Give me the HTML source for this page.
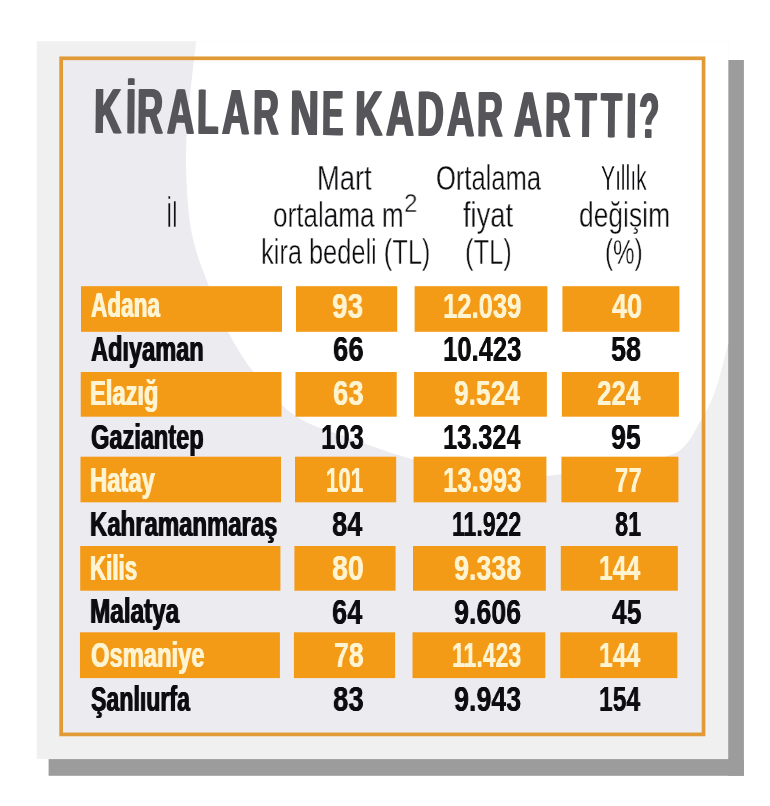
<!DOCTYPE html>
<html><head><meta charset="utf-8"><title>Kiralar ne kadar artti</title>
<style>
html,body{margin:0;padding:0;background:#fff;}
body{width:770px;height:806px;position:relative;overflow:hidden;font-family:"Liberation Sans",sans-serif;}
.abs{position:absolute;}
.t{position:absolute;white-space:nowrap;line-height:1em;transform-origin:0 0;display:block;}
.w{will-change:transform;}
#tw{left:0;top:0;width:770px;height:200px;will-change:transform;}
.b{font-weight:bold;}
.n{font-weight:normal;}
#title{left:0;top:0;width:770px;height:200px;transform-origin:95.8px 133.0px;transform:rotate(0.49deg);}
#page{left:0;top:0;width:770px;height:806px;filter:blur(0.4px);}
</style></head><body>
<div id="page" class="abs">
<svg class="abs" style="left:0;top:0" width="770" height="806" viewBox="0 0 770 806">
<defs><clipPath id="cc"><rect x="36.8" y="41.3" width="691.4" height="717.8"/></clipPath></defs>
<rect x="728" y="60" width="15.9" height="715.8" fill="#9c9c9c"/>
<rect x="48.6" y="759" width="695.3" height="16.8" fill="#9c9c9c"/>
<rect x="36.8" y="41.3" width="691.4" height="717.8" fill="#f0f0f1"/>
<rect x="61" y="58" width="642.6" height="676.4" fill="#ecebf0"/>
<path d="M196,42 C194.2,58.7 188.5,105.3 187,130 C185.5,154.7 186.0,171.8 187,190 C188.0,208.2 189.5,223.3 193,239 C196.5,254.7 202.2,268.5 208,284 C213.8,299.5 219.7,316.3 228,332 C236.3,347.7 246.5,363.8 258,378 C269.5,392.2 281.7,407.0 297,417 C312.3,427.0 331.5,431.2 350,438 C368.5,444.8 388.0,452.3 408,458 C428.0,463.7 449.7,468.8 470,472 C490.3,475.2 510.0,477.3 530,477 C550.0,476.7 571.7,472.5 590,470 C608.3,467.5 625.2,465.2 640,462 C654.8,458.8 669.0,457.7 679,451 C689.0,444.3 694.0,432.0 700,422 C706.0,412.0 710.3,404.0 715,391 C719.7,378.0 724.2,359.2 728,344 L732,344 L732,38 L196,38 Z" fill="#ffffff" clip-path="url(#cc)"/>
<rect x="61.15" y="58.3" width="642.4" height="676.1" fill="none" stroke="#e09b36" stroke-width="3.7"/>
<g fill="#f39a16">
<rect x="81.00" y="286.20" width="201.00" height="45.60"/><rect x="296.00" y="286.20" width="101.20" height="45.60"/><rect x="414.60" y="286.20" width="132.80" height="45.60"/><rect x="562.40" y="286.20" width="117.00" height="45.60"/><rect x="80.75" y="372.00" width="200.75" height="44.70"/><rect x="295.50" y="372.00" width="101.20" height="44.70"/><rect x="414.10" y="372.00" width="132.80" height="44.70"/><rect x="561.90" y="372.00" width="117.00" height="44.70"/><rect x="80.50" y="456.70" width="200.50" height="45.60"/><rect x="295.00" y="456.70" width="101.20" height="45.60"/><rect x="413.60" y="456.70" width="132.80" height="45.60"/><rect x="561.40" y="456.70" width="117.00" height="45.60"/><rect x="80.20" y="546.00" width="200.20" height="44.70"/><rect x="294.40" y="546.00" width="101.20" height="44.70"/><rect x="413.00" y="546.00" width="132.80" height="44.70"/><rect x="560.80" y="546.00" width="117.00" height="44.70"/><rect x="79.95" y="632.30" width="199.95" height="45.80"/><rect x="293.90" y="632.30" width="101.20" height="45.80"/><rect x="412.50" y="632.30" width="132.80" height="45.80"/><rect x="560.30" y="632.30" width="117.00" height="45.80"/>
</g>
</svg>
<div id="tw" class="abs"><div id="title" class="abs">
<span class="t b" style="left:94.45px;top:78.82px;font-size:64.0px;color:#55555a;transform:scaleX(0.5881);text-shadow:1.70px 0 0 #55555a,-1.70px 0 0 #55555a;">K</span>
<span class="t b" style="left:125.64px;top:78.82px;font-size:64.0px;color:#55555a;transform:scaleX(0.5400);text-shadow:1.85px 0 0 #55555a,-1.85px 0 0 #55555a;">İ</span>
<span class="t b" style="left:137.17px;top:78.82px;font-size:64.0px;color:#55555a;transform:scaleX(0.5585);text-shadow:1.79px 0 0 #55555a,-1.79px 0 0 #55555a;">R</span>
<span class="t b" style="left:166.61px;top:78.82px;font-size:64.0px;color:#55555a;transform:scaleX(0.5864);text-shadow:1.71px 0 0 #55555a,-1.71px 0 0 #55555a;">A</span>
<span class="t b" style="left:196.72px;top:78.82px;font-size:64.0px;color:#55555a;transform:scaleX(0.5441);text-shadow:1.84px 0 0 #55555a,-1.84px 0 0 #55555a;">L</span>
<span class="t b" style="left:222.11px;top:78.82px;font-size:64.0px;color:#55555a;transform:scaleX(0.5886);text-shadow:1.70px 0 0 #55555a,-1.70px 0 0 #55555a;">A</span>
<span class="t b" style="left:252.59px;top:78.82px;font-size:64.0px;color:#55555a;transform:scaleX(0.5537);text-shadow:1.81px 0 0 #55555a,-1.81px 0 0 #55555a;">R</span>
<span class="t b" style="left:290.02px;top:78.82px;font-size:64.0px;color:#55555a;transform:scaleX(0.6211);text-shadow:1.61px 0 0 #55555a,-1.61px 0 0 #55555a;">N</span>
<span class="t b" style="left:321.62px;top:78.82px;font-size:64.0px;color:#55555a;transform:scaleX(0.4946);text-shadow:2.02px 0 0 #55555a,-2.02px 0 0 #55555a;">E</span>
<span class="t b" style="left:355.44px;top:78.82px;font-size:64.0px;color:#55555a;transform:scaleX(0.5905);text-shadow:1.69px 0 0 #55555a,-1.69px 0 0 #55555a;">K</span>
<span class="t b" style="left:385.50px;top:78.82px;font-size:64.0px;color:#55555a;transform:scaleX(0.6023);text-shadow:1.66px 0 0 #55555a,-1.66px 0 0 #55555a;">A</span>
<span class="t b" style="left:416.60px;top:78.82px;font-size:64.0px;color:#55555a;transform:scaleX(0.5750);text-shadow:1.74px 0 0 #55555a,-1.74px 0 0 #55555a;">D</span>
<span class="t b" style="left:446.81px;top:78.82px;font-size:64.0px;color:#55555a;transform:scaleX(0.5886);text-shadow:1.70px 0 0 #55555a,-1.70px 0 0 #55555a;">A</span>
<span class="t b" style="left:477.39px;top:78.82px;font-size:64.0px;color:#55555a;transform:scaleX(0.5537);text-shadow:1.81px 0 0 #55555a,-1.81px 0 0 #55555a;">R</span>
<span class="t b" style="left:513.59px;top:78.82px;font-size:64.0px;color:#55555a;transform:scaleX(0.6068);text-shadow:1.65px 0 0 #55555a,-1.65px 0 0 #55555a;">A</span>
<span class="t b" style="left:545.41px;top:78.82px;font-size:64.0px;color:#55555a;transform:scaleX(0.5463);text-shadow:1.83px 0 0 #55555a,-1.83px 0 0 #55555a;">R</span>
<span class="t b" style="left:575.40px;top:78.82px;font-size:64.0px;color:#55555a;transform:scaleX(0.5410);text-shadow:1.85px 0 0 #55555a,-1.85px 0 0 #55555a;">T</span>
<span class="t b" style="left:601.30px;top:78.82px;font-size:64.0px;color:#55555a;transform:scaleX(0.5256);text-shadow:1.90px 0 0 #55555a,-1.90px 0 0 #55555a;">T</span>
<span class="t b" style="left:625.78px;top:78.82px;font-size:64.0px;color:#55555a;transform:scaleX(0.5800);text-shadow:1.72px 0 0 #55555a,-1.72px 0 0 #55555a;">I</span>
<span class="t b" style="left:639.29px;top:78.82px;font-size:64.0px;color:#55555a;transform:scaleX(0.5059);text-shadow:1.98px 0 0 #55555a,-1.98px 0 0 #55555a;">?</span>
</div></div>
<span class="t n w" style="left:165.87px;top:198.10px;font-size:34.5px;color:#0b0b0e;transform:scaleX(0.6650);-webkit-text-stroke:0.4px #ecebf0;">İl</span>
<span class="t n w" style="left:317.31px;top:160.80px;font-size:34.5px;color:#0b0b0e;transform:scaleX(0.7906);-webkit-text-stroke:0.4px #ffffff;">Mart</span>
<span class="t n w" style="left:272.93px;top:197.50px;font-size:34.5px;color:#0b0b0e;transform:scaleX(0.7567);-webkit-text-stroke:0.4px #ffffff;">ortalama m</span>
<span class="t n w" style="left:404.15px;top:191.04px;font-size:25.0px;color:#0b0b0e;transform:scaleX(0.9640);-webkit-text-stroke:0.4px #ffffff;">2</span>
<span class="t n w" style="left:260.87px;top:234.80px;font-size:34.5px;color:#0b0b0e;transform:scaleX(0.7363);-webkit-text-stroke:0.4px #ffffff;">kira bedeli (TL)</span>
<span class="t n w" style="left:435.86px;top:160.80px;font-size:34.5px;color:#0b0b0e;transform:scaleX(0.7396);-webkit-text-stroke:0.4px #ffffff;">Ortalama</span>
<span class="t n w" style="left:462.64px;top:197.50px;font-size:34.5px;color:#0b0b0e;transform:scaleX(0.7906);-webkit-text-stroke:0.4px #ffffff;">fiyat</span>
<span class="t n w" style="left:465.05px;top:234.80px;font-size:34.5px;color:#0b0b0e;transform:scaleX(0.7403);-webkit-text-stroke:0.4px #ffffff;">(TL)</span>
<span class="t n w" style="left:600.55px;top:160.80px;font-size:34.5px;color:#0b0b0e;transform:scaleX(0.6105);-webkit-text-stroke:0.4px #ffffff;">Yıllık</span>
<span class="t n w" style="left:579.22px;top:197.50px;font-size:34.5px;color:#0b0b0e;transform:scaleX(0.7663);-webkit-text-stroke:0.4px #ffffff;">değişim</span>
<span class="t n w" style="left:605.03px;top:234.80px;font-size:34.5px;color:#0b0b0e;transform:scaleX(0.7001);-webkit-text-stroke:0.4px #ffffff;">(%)</span>
<span class="t b w" style="left:91.35px;top:288.36px;font-size:34.9px;color:#fff4d2;transform:scaleX(0.6461);text-shadow:0.77px 0 0 #fff4d2,-0.77px 0 0 #fff4d2;">Adana</span>
<span class="t b w" style="left:332.48px;top:287.57px;font-size:35.0px;color:#fff4d2;transform:scaleX(0.7980);text-shadow:0.19px 0 0 #fff4d2,-0.19px 0 0 #fff4d2;">93</span>
<span class="t b w" style="left:442.65px;top:287.57px;font-size:35.0px;color:#fff4d2;transform:scaleX(0.7318);text-shadow:0.20px 0 0 #fff4d2,-0.20px 0 0 #fff4d2;">12.039</span>
<span class="t b w" style="left:611.55px;top:287.57px;font-size:35.0px;color:#fff4d2;transform:scaleX(0.7704);text-shadow:0.19px 0 0 #fff4d2,-0.19px 0 0 #fff4d2;">40</span>
<span class="t b w" style="left:91.33px;top:332.08px;font-size:34.9px;color:#0d0d0f;transform:scaleX(0.6757);text-shadow:0.74px 0 0 #0d0d0f,-0.74px 0 0 #0d0d0f;">Adıyaman</span>
<span class="t b w" style="left:332.89px;top:331.29px;font-size:35.0px;color:#0d0d0f;transform:scaleX(0.7872);text-shadow:0.19px 0 0 #0d0d0f,-0.19px 0 0 #0d0d0f;">66</span>
<span class="t b w" style="left:442.65px;top:331.29px;font-size:35.0px;color:#0d0d0f;transform:scaleX(0.7318);text-shadow:0.20px 0 0 #0d0d0f,-0.20px 0 0 #0d0d0f;">10.423</span>
<span class="t b w" style="left:611.13px;top:331.29px;font-size:35.0px;color:#0d0d0f;transform:scaleX(0.7704);text-shadow:0.19px 0 0 #0d0d0f,-0.19px 0 0 #0d0d0f;">58</span>
<span class="t b w" style="left:90.22px;top:375.80px;font-size:34.9px;color:#fff4d2;transform:scaleX(0.6792);text-shadow:0.74px 0 0 #fff4d2,-0.74px 0 0 #fff4d2;">Elazığ</span>
<span class="t b w" style="left:332.89px;top:375.01px;font-size:35.0px;color:#fff4d2;transform:scaleX(0.7872);text-shadow:0.19px 0 0 #fff4d2,-0.19px 0 0 #fff4d2;">63</span>
<span class="t b w" style="left:454.33px;top:375.01px;font-size:35.0px;color:#fff4d2;transform:scaleX(0.7519);text-shadow:0.20px 0 0 #fff4d2,-0.20px 0 0 #fff4d2;">9.524</span>
<span class="t b w" style="left:597.04px;top:375.01px;font-size:35.0px;color:#fff4d2;transform:scaleX(0.7406);text-shadow:0.20px 0 0 #fff4d2,-0.20px 0 0 #fff4d2;">224</span>
<span class="t b w" style="left:90.96px;top:419.52px;font-size:34.9px;color:#0d0d0f;transform:scaleX(0.6758);text-shadow:0.74px 0 0 #0d0d0f,-0.74px 0 0 #0d0d0f;">Gaziantep</span>
<span class="t b w" style="left:320.75px;top:418.73px;font-size:35.0px;color:#0d0d0f;transform:scaleX(0.7319);text-shadow:0.20px 0 0 #0d0d0f,-0.20px 0 0 #0d0d0f;">103</span>
<span class="t b w" style="left:442.67px;top:418.73px;font-size:35.0px;color:#0d0d0f;transform:scaleX(0.7242);text-shadow:0.21px 0 0 #0d0d0f,-0.21px 0 0 #0d0d0f;">13.324</span>
<span class="t b w" style="left:611.31px;top:418.73px;font-size:35.0px;color:#0d0d0f;transform:scaleX(0.7656);text-shadow:0.20px 0 0 #0d0d0f,-0.20px 0 0 #0d0d0f;">95</span>
<span class="t b w" style="left:90.21px;top:463.24px;font-size:34.9px;color:#fff4d2;transform:scaleX(0.6821);text-shadow:0.73px 0 0 #fff4d2,-0.73px 0 0 #fff4d2;">Hatay</span>
<span class="t b w" style="left:326.36px;top:462.45px;font-size:35.0px;color:#fff4d2;transform:scaleX(0.6343);text-shadow:0.24px 0 0 #fff4d2,-0.24px 0 0 #fff4d2;">101</span>
<span class="t b w" style="left:442.65px;top:462.45px;font-size:35.0px;color:#fff4d2;transform:scaleX(0.7318);text-shadow:0.20px 0 0 #fff4d2,-0.20px 0 0 #fff4d2;">13.993</span>
<span class="t b w" style="left:614.80px;top:462.45px;font-size:35.0px;color:#fff4d2;transform:scaleX(0.6837);text-shadow:0.22px 0 0 #fff4d2,-0.22px 0 0 #fff4d2;">77</span>
<span class="t b w" style="left:90.21px;top:506.96px;font-size:34.9px;color:#0d0d0f;transform:scaleX(0.6854);text-shadow:0.73px 0 0 #0d0d0f,-0.73px 0 0 #0d0d0f;">Kahramanmaraş</span>
<span class="t b w" style="left:332.30px;top:506.17px;font-size:35.0px;color:#0d0d0f;transform:scaleX(0.7804);text-shadow:0.19px 0 0 #0d0d0f,-0.19px 0 0 #0d0d0f;">84</span>
<span class="t b w" style="left:451.81px;top:506.17px;font-size:35.0px;color:#0d0d0f;transform:scaleX(0.6575);text-shadow:0.23px 0 0 #0d0d0f,-0.23px 0 0 #0d0d0f;">11.922</span>
<span class="t b w" style="left:614.81px;top:506.17px;font-size:35.0px;color:#0d0d0f;transform:scaleX(0.6736);text-shadow:0.22px 0 0 #0d0d0f,-0.22px 0 0 #0d0d0f;">81</span>
<span class="t b w" style="left:90.30px;top:550.68px;font-size:34.9px;color:#fff4d2;transform:scaleX(0.6405);text-shadow:0.78px 0 0 #fff4d2,-0.78px 0 0 #fff4d2;">Kilis</span>
<span class="t b w" style="left:332.26px;top:549.89px;font-size:35.0px;color:#fff4d2;transform:scaleX(0.8155);text-shadow:0.18px 0 0 #fff4d2,-0.18px 0 0 #fff4d2;">80</span>
<span class="t b w" style="left:453.91px;top:549.89px;font-size:35.0px;color:#fff4d2;transform:scaleX(0.7662);text-shadow:0.20px 0 0 #fff4d2,-0.20px 0 0 #fff4d2;">9.338</span>
<span class="t b w" style="left:599.21px;top:549.89px;font-size:35.0px;color:#fff4d2;transform:scaleX(0.7035);text-shadow:0.21px 0 0 #fff4d2,-0.21px 0 0 #fff4d2;">144</span>
<span class="t b w" style="left:90.18px;top:594.40px;font-size:34.9px;color:#0d0d0f;transform:scaleX(0.6964);text-shadow:0.72px 0 0 #0d0d0f,-0.72px 0 0 #0d0d0f;">Malatya</span>
<span class="t b w" style="left:332.30px;top:593.61px;font-size:35.0px;color:#0d0d0f;transform:scaleX(0.7804);text-shadow:0.19px 0 0 #0d0d0f,-0.19px 0 0 #0d0d0f;">64</span>
<span class="t b w" style="left:453.91px;top:593.61px;font-size:35.0px;color:#0d0d0f;transform:scaleX(0.7662);text-shadow:0.20px 0 0 #0d0d0f,-0.20px 0 0 #0d0d0f;">9.606</span>
<span class="t b w" style="left:611.65px;top:593.61px;font-size:35.0px;color:#0d0d0f;transform:scaleX(0.7567);text-shadow:0.20px 0 0 #0d0d0f,-0.20px 0 0 #0d0d0f;">45</span>
<span class="t b w" style="left:90.96px;top:638.12px;font-size:34.9px;color:#fff4d2;transform:scaleX(0.6805);text-shadow:0.73px 0 0 #fff4d2,-0.73px 0 0 #fff4d2;">Osmaniye</span>
<span class="t b w" style="left:333.92px;top:637.33px;font-size:35.0px;color:#fff4d2;transform:scaleX(0.7602);text-shadow:0.20px 0 0 #fff4d2,-0.20px 0 0 #fff4d2;">78</span>
<span class="t b w" style="left:451.81px;top:637.33px;font-size:35.0px;color:#fff4d2;transform:scaleX(0.6575);text-shadow:0.23px 0 0 #fff4d2,-0.23px 0 0 #fff4d2;">11.423</span>
<span class="t b w" style="left:599.21px;top:637.33px;font-size:35.0px;color:#fff4d2;transform:scaleX(0.7035);text-shadow:0.21px 0 0 #fff4d2,-0.21px 0 0 #fff4d2;">144</span>
<span class="t b w" style="left:91.34px;top:681.84px;font-size:34.9px;color:#0d0d0f;transform:scaleX(0.6624);text-shadow:0.75px 0 0 #0d0d0f,-0.75px 0 0 #0d0d0f;">Şanlıurfa</span>
<span class="t b w" style="left:332.89px;top:681.05px;font-size:35.0px;color:#0d0d0f;transform:scaleX(0.7872);text-shadow:0.19px 0 0 #0d0d0f,-0.19px 0 0 #0d0d0f;">83</span>
<span class="t b w" style="left:453.91px;top:681.05px;font-size:35.0px;color:#0d0d0f;transform:scaleX(0.7662);text-shadow:0.20px 0 0 #0d0d0f,-0.20px 0 0 #0d0d0f;">9.943</span>
<span class="t b w" style="left:599.21px;top:681.05px;font-size:35.0px;color:#0d0d0f;transform:scaleX(0.7035);text-shadow:0.21px 0 0 #0d0d0f,-0.21px 0 0 #0d0d0f;">154</span>
</div>
</body></html>
